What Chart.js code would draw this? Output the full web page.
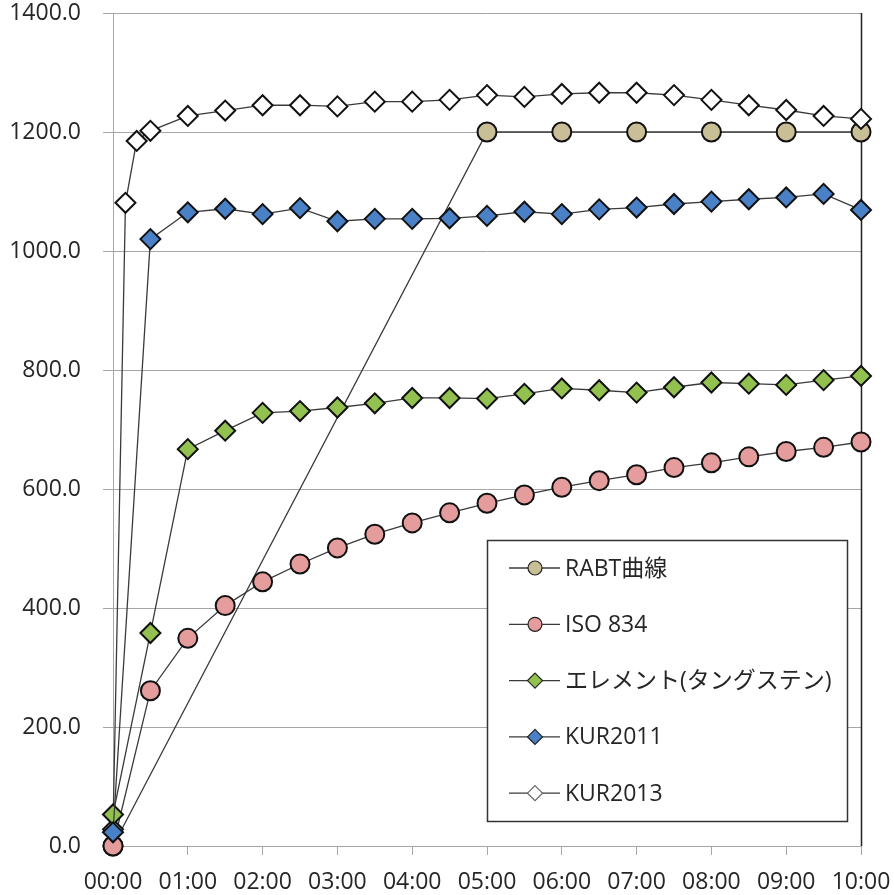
<!DOCTYPE html>
<html>
<head>
<meta charset="utf-8">
<script src="https://cdn.jsdelivr.net/npm/chart.js@4/dist/chart.umd.min.js"></script>
<style>
  html, body { margin: 0; padding: 0; background: #fff; }
  canvas { display: block; }
</style>
</head>
<body>
<canvas id="c" width="894" height="895"></canvas>
<script>
// Tick labels for the time axis (mm:ss), one per minute
const tickLabels = ['00:00','01:00','02:00','03:00','04:00','05:00','06:00','07:00','08:00','09:00','10:00'];

// Elapsed time in seconds for the half-minute readings
const halfMinuteSec = [0,30,60,90,120,150,180,210,240,270,300,330,360,390,420,450,480,510,540,570,600];

// RABT curve (°C)
const rabtSec  = [0,300,360,420,480,540,600];
const rabtTemp = [0,1200,1200,1200,1200,1200,1200];

// ISO 834 standard curve (°C)
const isoTemp = [0,261,349,404,444,474,501,524,543,560,576,590,603,614,624,636,644,654,663,670,679];

// Element (tungsten) measurements (°C)
const elementTemp = [53,358,667,698,728,731,737,744,753,753,752,760,769,766,762,771,779,777,775,783,790];

// KUR2011 measurements (°C)
const kur2011Temp = [23,1020,1065,1071,1062,1072,1050,1054,1054,1055,1059,1066,1062,1070,1073,1079,1083,1087,1090,1096,1069];

// KUR2013 measurements (°C), with extra readings in the first half minute
const kur2013Sec  = [0,10,19,30,60,90,120,150,180,210,240,270,300,330,360,390,420,450,480,510,540,570,600];
const kur2013Temp = [28,1081,1185,1202,1227,1236,1245,1245,1243,1251,1251,1254,1262,1259,1264,1266,1266,1262,1254,1245,1237,1227,1222];

const FONT = "'Open Sans', 'Noto Sans CJK JP', sans-serif";
const TEXT = '#262626';
const GRID = '#a6a6a6';
const LINE = '#3a3a3a';
const EDGE = '#111111';

const toPoints = (xs, ys) => ys.map((y, i) => ({ x: xs[i], y }));

function series(label, xs, ys, style, fill, radius, order) {
  return {
    label,
    data: toPoints(xs, ys),
    borderColor: LINE,
    borderWidth: 1.3,
    backgroundColor: fill,
    pointStyle: style,
    pointRadius: radius,
    pointHoverRadius: radius,
    pointBackgroundColor: fill,
    pointBorderColor: EDGE,
    pointBorderWidth: 2,
    fill: false,
    tension: 0,
    clip: false,
    order
  };
}

const datasets = [
  series('RABT曲線', rabtSec, rabtTemp, 'circle', '#c9bf97', 9.5, 5),
  series('ISO 834', halfMinuteSec, isoTemp, 'circle', '#e49c9c', 9.5, 4),
  series('エレメント(タングステン)', halfMinuteSec, elementTemp, 'rectRot', '#93c150', 10, 2),
  series('KUR2011', halfMinuteSec, kur2011Temp, 'rectRot', '#4a80c6', 10, 1),
  series('KUR2013', kur2013Sec, kur2013Temp, 'rectRot', '#ffffff', 10, 3)
];

// Dark frame line along the right edge of the plot
const rightEdge = {
  id: 'rightEdge',
  beforeDatasetsDraw(chart) {
    const { ctx, chartArea: a } = chart;
    ctx.save();
    ctx.strokeStyle = '#222';
    ctx.lineWidth = 1.5;
    ctx.beginPath();
    ctx.moveTo(Math.round(a.right) + 0.5, a.top);
    ctx.lineTo(Math.round(a.right) + 0.5, a.bottom);
    ctx.stroke();
    ctx.restore();
  }
};

// Boxed legend drawn inside the plot, lower right
const boxLegend = {
  id: 'boxLegend',
  afterDraw(chart) {
    const { ctx, chartArea: a } = chart;
    const left = a.left + 374, top = a.top + 527, w = 360, h = 281;
    ctx.save();
    ctx.fillStyle = '#fff';
    ctx.fillRect(left, top, w, h);
    ctx.strokeStyle = '#333';
    ctx.lineWidth = 1.5;
    ctx.strokeRect(left + 0.5, top + 0.5, w, h);
    chart.data.datasets.forEach((ds, i) => {
      const y = top + 28 + i * 56.3;
      const mx = left + 48;
      ctx.strokeStyle = LINE;
      ctx.lineWidth = 1.3;
      ctx.beginPath();
      ctx.moveTo(left + 22, y);
      ctx.lineTo(left + 73, y);
      ctx.stroke();
      ctx.fillStyle = ds.backgroundColor;
      ctx.strokeStyle = ds.backgroundColor === '#ffffff' ? '#666' : '#222';
      ctx.lineWidth = 1.2;
      ctx.beginPath();
      if (ds.pointStyle === 'circle') {
        ctx.arc(mx, y, 7, 0, Math.PI * 2);
      } else {
        ctx.moveTo(mx, y - 7.5);
        ctx.lineTo(mx + 7.5, y);
        ctx.lineTo(mx, y + 7.5);
        ctx.lineTo(mx - 7.5, y);
        ctx.closePath();
      }
      ctx.fill();
      ctx.stroke();
      ctx.fillStyle = TEXT;
      ctx.font = '23px ' + FONT;
      ctx.textBaseline = 'middle';
      ctx.textAlign = 'left';
      ctx.fillText(ds.label, left + 78, y + 1);
    });
    ctx.restore();
  }
};

new Chart(document.getElementById('c'), {
  type: 'line',
  data: { datasets },
  plugins: [rightEdge, boxLegend],
  options: {
    responsive: false,
    animation: false,
    devicePixelRatio: 1,
    layout: { padding: { top: 13, right: 33, left: 0, bottom: 0 } },
    plugins: { legend: { display: false }, tooltip: { enabled: false } },
    scales: {
      x: {
        type: 'linear',
        min: 0,
        max: 600,
        ticks: {
          stepSize: 60,
          autoSkip: false,
          maxRotation: 0,
          padding: 14,
          color: TEXT,
          font: { family: FONT, size: 23 },
          callback: (v) => tickLabels[Math.round(v / 60)]
        },
        grid: { drawOnChartArea: false, color: GRID, tickLength: 9 },
        border: { color: GRID },
        afterFit(s) { s.height = 49; s.paddingLeft = 0; s.paddingRight = 0; }
      },
      y: {
        min: 0,
        max: 1400,
        ticks: {
          stepSize: 200,
          padding: 22,
          color: TEXT,
          font: { family: FONT, size: 23 },
          callback: (v) => v.toFixed(1)
        },
        grid: { color: GRID, tickLength: 10 },
        border: { color: GRID },
        afterFit(s) { s.width = 113; s.paddingTop = 0; s.paddingBottom = 0; }
      }
    }
  }
});
</script>
</body>
</html>
